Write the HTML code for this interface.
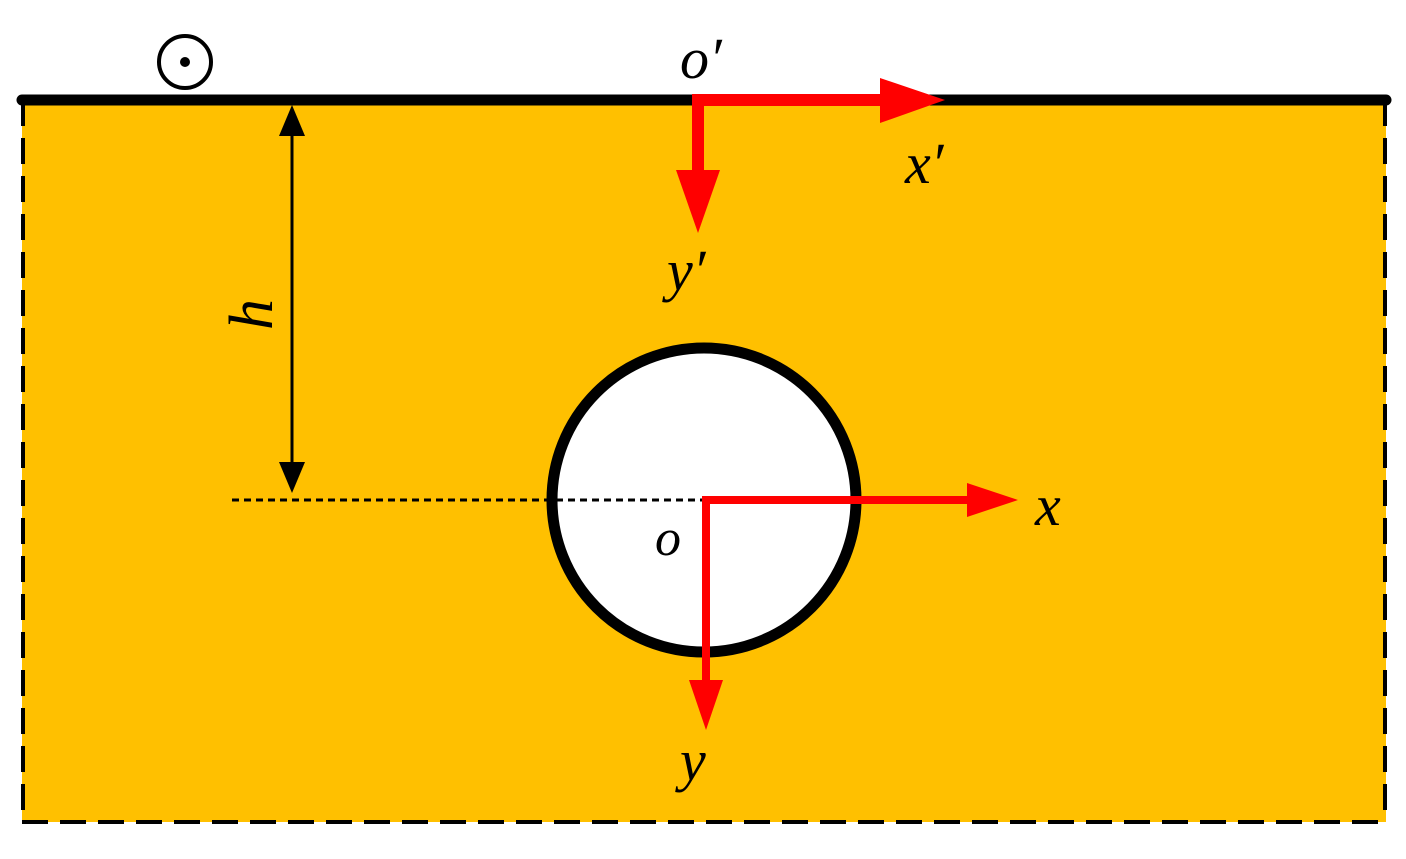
<!DOCTYPE html>
<html><head><meta charset="utf-8"><style>
html,body{margin:0;padding:0;background:#fff;}
svg{display:block;}
text{font-family:"Liberation Serif",serif;font-style:italic;fill:#000;}
</style></head><body>
<svg width="1406" height="859" viewBox="0 0 1406 859" xmlns="http://www.w3.org/2000/svg">
<rect x="22" y="100" width="1364" height="722" fill="#FFC000"/>
<g stroke="#000" stroke-width="4" stroke-dasharray="26,12" fill="none">
<line x1="23" y1="100" x2="23" y2="822"/>
<line x1="1385" y1="100" x2="1385" y2="822"/>
<line x1="22" y1="822" x2="1386" y2="822"/>
</g>
<line x1="22" y1="100" x2="1386" y2="100" stroke="#000" stroke-width="11" stroke-linecap="round"/>
<!-- magnetic symbol -->
<circle cx="185" cy="62" r="26" fill="none" stroke="#000" stroke-width="4"/>
<circle cx="185" cy="62" r="5" fill="#000"/>
<!-- circle -->
<circle cx="704" cy="500" r="152" fill="#fff" stroke="#000" stroke-width="11"/>
<!-- dotted line -->
<line x1="232" y1="500" x2="704" y2="500" stroke="#000" stroke-width="3" stroke-dasharray="7,5"/>
<!-- h arrow -->
<line x1="292" y1="120" x2="292" y2="476" stroke="#000" stroke-width="3"/>
<polygon points="292,105 279,136 305,136" fill="#000"/>
<polygon points="292,493 279,462 305,462" fill="#000"/>
<text x="0" y="0" font-size="62" transform="translate(272,330) rotate(-90)">h</text>
<!-- top red axes -->
<line x1="692" y1="100" x2="885" y2="100" stroke="#f00" stroke-width="12"/>
<polygon points="945,100 880,78 880,123" fill="#f00"/>
<line x1="698" y1="96" x2="698" y2="175" stroke="#f00" stroke-width="12"/>
<polygon points="698,233 676,170 720,170" fill="#f00"/>
<text x="680" y="78" font-size="58">o′</text>
<text x="905" y="183" font-size="58">x′</text>
<text x="667" y="290" font-size="58">y′</text>
<!-- center red axes -->
<line x1="703" y1="500" x2="970" y2="500" stroke="#f00" stroke-width="8"/>
<polygon points="1018,500 967,483 967,517" fill="#f00"/>
<line x1="706" y1="496" x2="706" y2="685" stroke="#f00" stroke-width="8"/>
<polygon points="706,730 689,680 723,680" fill="#f00"/>
<text x="655" y="555" font-size="52">o</text>
<text x="1035" y="525" font-size="58">x</text>
<text x="680" y="780" font-size="58">y</text>
</svg>
</body></html>
